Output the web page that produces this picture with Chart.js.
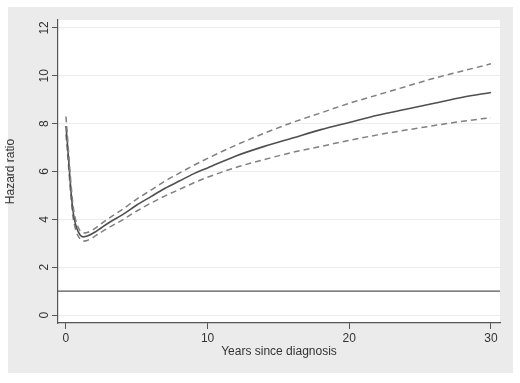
<!DOCTYPE html>
<html>
<head>
<meta charset="utf-8">
<script src="https://cdn.jsdelivr.net/npm/chart.js@4"></script>
<style>
  body { margin: 0; background: #fff; }
  canvas { display: block; }
</style>
</head>
<body>
<canvas id="myChart" width="520" height="383"></canvas>
<script>
// years since diagnosis
var years = [0, 0.1, 0.2, 0.3, 0.4, 0.5, 0.6, 0.75, 1, 1.25, 1.5, 2, 2.5, 3, 4, 5, 6, 7, 8, 9, 10, 12, 14, 16, 18, 20, 22, 24, 26, 28, 30];
var hr = [7.9, 7.2, 6.4, 5.6, 4.9, 4.35, 4.0, 3.65, 3.35, 3.27, 3.3, 3.45, 3.65, 3.85, 4.2, 4.6, 4.95, 5.3, 5.6, 5.9, 6.15, 6.65, 7.05, 7.4, 7.75, 8.05, 8.35, 8.6, 8.85, 9.1, 9.3];
var hrUpper = [8.3, 7.55, 6.7, 5.9, 5.2, 4.6, 4.2, 3.85, 3.52, 3.43, 3.45, 3.6, 3.82, 4.03, 4.42, 4.85, 5.22, 5.6, 5.93, 6.25, 6.55, 7.1, 7.6, 8.05, 8.45, 8.85, 9.2, 9.55, 9.9, 10.2, 10.5];
var hrLower = [7.55, 6.85, 6.1, 5.3, 4.65, 4.1, 3.78, 3.45, 3.18, 3.1, 3.12, 3.28, 3.47, 3.65, 3.98, 4.35, 4.68, 4.98, 5.25, 5.52, 5.76, 6.17, 6.5, 6.8, 7.05, 7.3, 7.53, 7.73, 7.92, 8.1, 8.25];
var xTicks = [0, 10, 20, 30];
var yTicks = [0, 2, 4, 6, 8, 10, 12];
var refValue = 1;

var xMin = -0.56, xMax = 30.64;
var yMin = -0.33, yMax = 12.33;

function pts(ys) {
  var out = [];
  for (var i = 0; i < years.length; i++) out.push({ x: years[i], y: ys[i] });
  return out;
}

var backdrop = {
  id: 'backdrop',
  beforeDraw: function (chart) {
    var c = chart.ctx, a = chart.chartArea;
    c.save();
    c.fillStyle = '#ebebeb';
    c.fillRect(8, 7, 505, 366);
    c.fillStyle = '#ffffff';
    c.fillRect(a.left, a.top, a.right - a.left, a.bottom - a.top);
    c.restore();
  },
  afterDraw: function (chart) {
    // y tick labels, turned like the original
    var c = chart.ctx, ys = chart.scales.y;
    c.save();
    c.fillStyle = '#333';
    c.font = '12px "Liberation Sans", Arial, sans-serif';
    c.textAlign = 'center';
    c.textBaseline = 'middle';
    yTicks.forEach(function (v) {
      c.save();
      c.translate(45, ys.getPixelForValue(v));
      c.rotate(-Math.PI / 2);
      c.fillText(String(v), 0, 0);
      c.restore();
    });
    c.restore();
  }
};

var ctx = document.getElementById('myChart').getContext('2d');
var myChart = new Chart(ctx, {
  type: 'line',
  data: {
    datasets: [{
      data: pts(hrUpper),
      borderColor: '#808080',
      borderWidth: 1.5,
      borderDash: [6, 4],
      pointRadius: 0,
      cubicInterpolationMode: 'monotone'
    }, {
      data: pts(hr),
      borderColor: '#4f4f4f',
      borderWidth: 1.6,
      pointRadius: 0,
      cubicInterpolationMode: 'monotone'
    }, {
      data: pts(hrLower),
      borderColor: '#808080',
      borderWidth: 1.5,
      borderDash: [6, 4],
      pointRadius: 0,
      cubicInterpolationMode: 'monotone'
    }, {
      data: [{ x: xMin, y: refValue }, { x: xMax, y: refValue }],
      borderColor: '#555',
      borderWidth: 1.2,
      pointRadius: 0
    }]
  },
  options: {
    responsive: false,
    animation: false,
    layout: { padding: { left: 0, top: 20, right: 20, bottom: 10 } },
    plugins: { legend: { display: false }, tooltip: { enabled: false } },
    scales: {
      x: {
        type: 'linear',
        min: xMin,
        max: xMax,
        afterBuildTicks: function (s) { s.ticks = xTicks.map(function (v) { return { value: v }; }); },
        afterFit: function (s) { s.height = 50; },
        grid: { drawOnChartArea: false, tickColor: '#555', tickLength: 6 },
        border: { color: '#555', width: 1.2 },
        ticks: { color: '#333', padding: 2, maxRotation: 0, font: { family: '"Liberation Sans", Arial, sans-serif', size: 12 } },
        title: { display: true, text: 'Years since diagnosis', color: '#333', padding: { top: 0, bottom: 14 }, font: { family: '"Liberation Sans", Arial, sans-serif', size: 12 } }
      },
      y: {
        type: 'linear',
        min: yMin,
        max: yMax,
        afterBuildTicks: function (s) { s.ticks = yTicks.map(function (v) { return { value: v }; }); },
        afterFit: function (s) { s.width = 58; },
        grid: { color: '#ececec', lineWidth: 1, tickColor: '#555', tickLength: 6 },
        border: { color: '#555', width: 1.2 },
        ticks: { display: false },
        title: { display: true, text: 'Hazard ratio', color: '#333', padding: { top: 3, bottom: 0 }, font: { family: '"Liberation Sans", Arial, sans-serif', size: 12 } }
      }
    }
  },
  plugins: [backdrop]
});
</script>
</body>
</html>
